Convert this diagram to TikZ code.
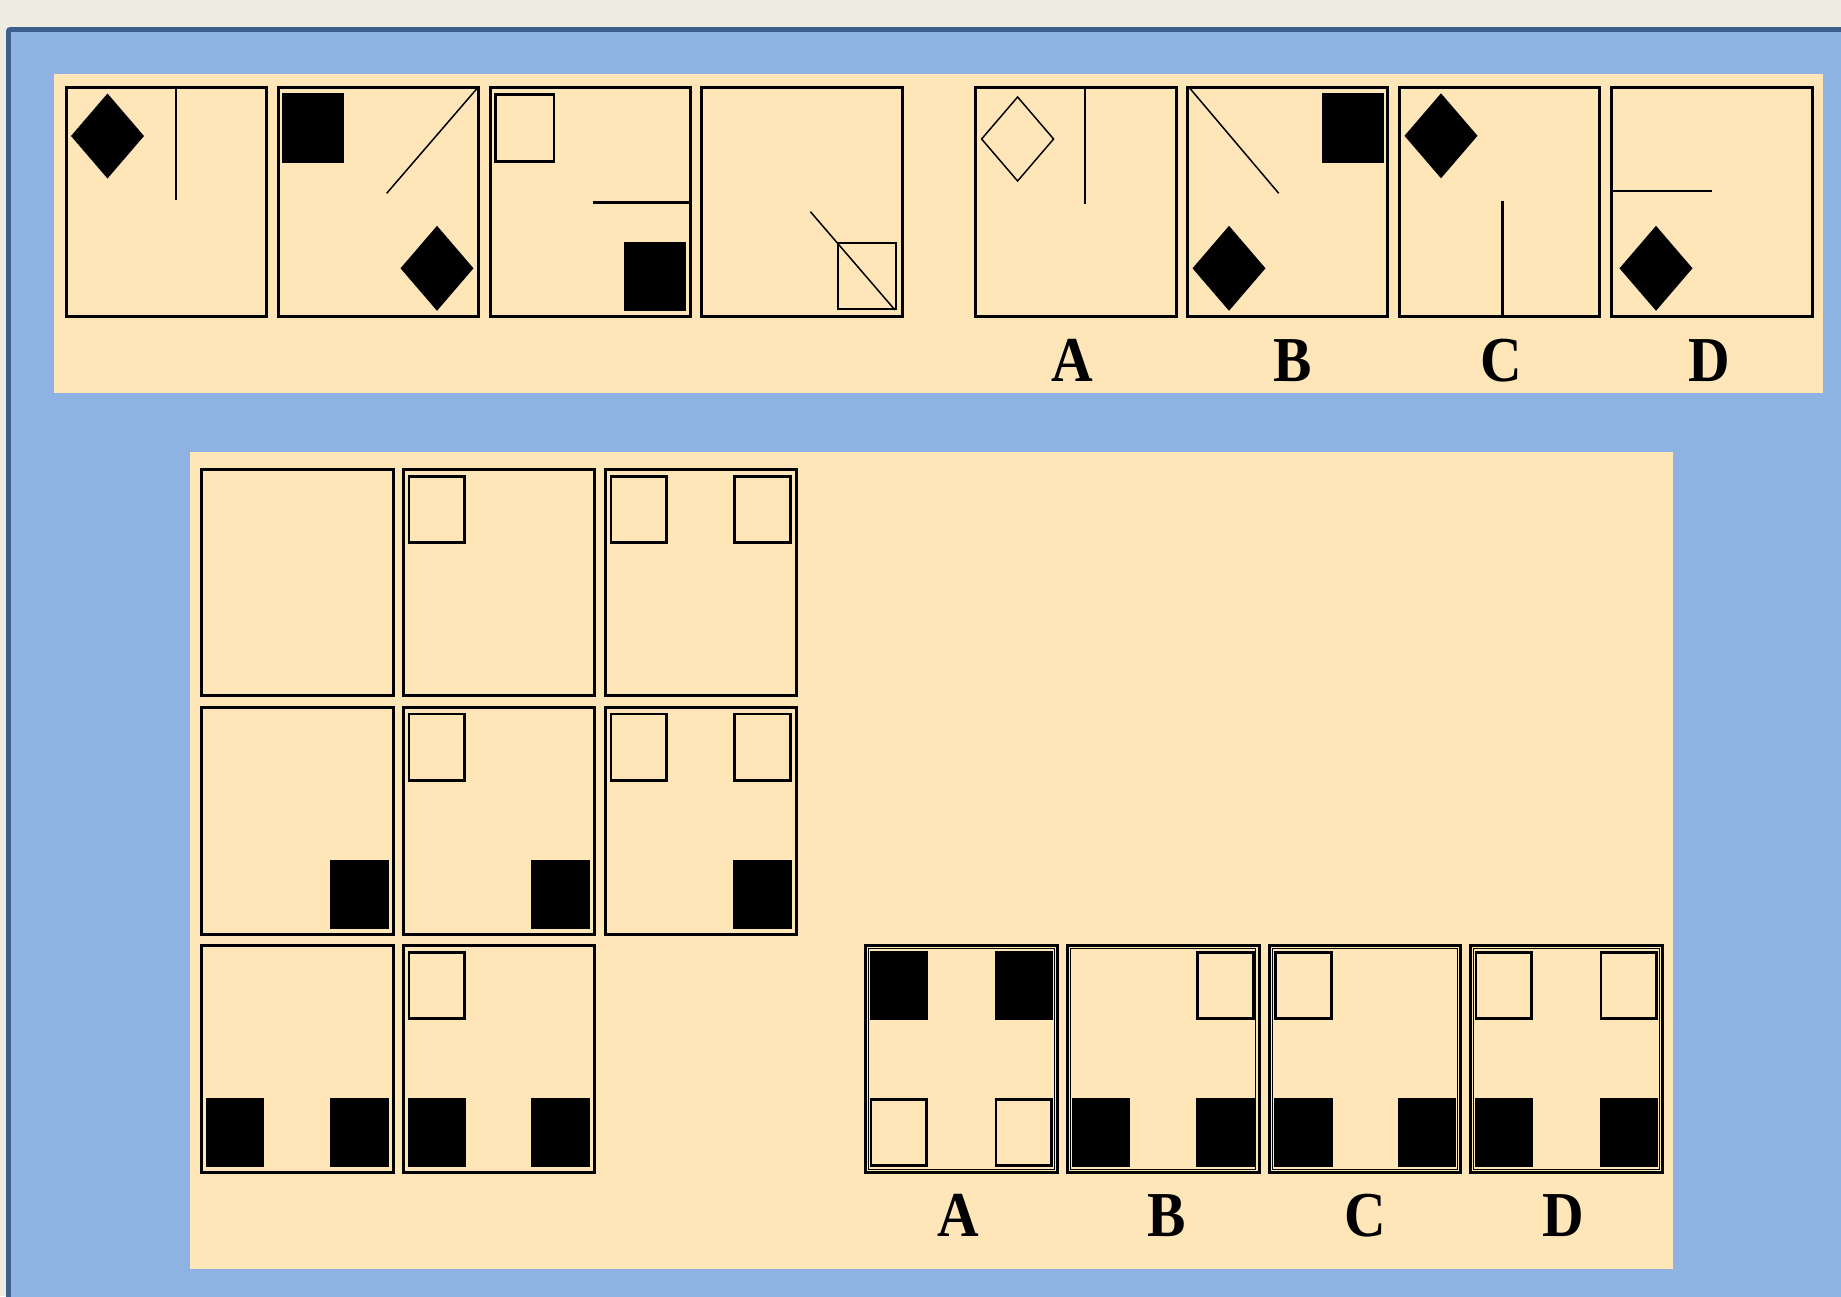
\documentclass[tikz,border=0pt]{standalone}
\usepackage{fontspec}
\setmainfont{Liberation Serif}
\definecolor{bggrey}{RGB}{238,235,224}
\definecolor{framedark}{RGB}{59,95,143}
\definecolor{skyblue}{RGB}{142,179,227}
\definecolor{cream}{RGB}{255,230,185}
\tikzset{
  boxline/.style={draw=black,line width=3pt},
  innerline/.style={draw=black,line width=1.1pt},
  thinline/.style={draw=black,line width=1.5pt},
  midline/.style={draw=black,line width=2.5pt},
  sqline/.style={draw=black,line width=2.8pt},
  lab/.style={anchor=base,inner sep=0pt,font=\fontsize{64}{64}\selectfont\bfseries}
}
% filled diamond centred at (#1,#2)
\newcommand\DiaFill[2]{\fill[black] (#1,#2-42.5) -- (#1+36.5,#2) -- (#1,#2+42.5) -- (#1-36.5,#2) -- cycle;}
\newcommand\DiaOpen[2]{\draw[thinline,line join=miter] (#1,#2-42) -- (#1+36,#2) -- (#1,#2+42) -- (#1-36,#2) -- cycle;}
% small squares: top-left corner of outer extent
\newcommand\FSq[2]{\fill[black] (#1,#2) rectangle ++(58.5,69);}
\newcommand\OSq[2]{\draw[sqline] (#1+1.4,#2+1.4) rectangle (#1+57.1,#2+67.6);}
% box with outer extent L T R B
\newcommand\PBox[4]{\draw[boxline] (#1+1.5,#2+1.5) rectangle (#3-1.5,#4-1.5);}
\newcommand\DBox[4]{\draw[boxline] (#1+1.5,#2+1.5) rectangle (#3-1.5,#4-1.5);
  \draw[innerline] (#1+4.6,#2+4.6) rectangle (#3-4.6,#4-4.6);}
\begin{document}
\begin{tikzpicture}[x=1pt,y=-1pt]
\useasboundingbox (0,0) rectangle (1841,1296);
% background and window frame
\fill[bggrey] (0,0) rectangle (1841,1296);
\fill[framedark,rounded corners=4pt] (6,27) rectangle (1870,1330);
\fill[skyblue] (11,32) rectangle (1870,1330);
% panels
\fill[cream] (54,74) rectangle (1823,392.5);
\fill[cream] (189.5,452) rectangle (1672.5,1269);

% ---------- top panel ----------
% question boxes
\PBox{65}{86}{268}{318}
\PBox{277}{86}{480}{318}
\PBox{489}{86}{692}{318}
\PBox{700}{86}{904}{318}
% options
\PBox{974}{86}{1178}{318}
\PBox{1186}{86}{1389}{318}
\PBox{1398}{86}{1601}{318}
\PBox{1610}{86}{1814}{318}

% T1
\DiaFill{107.5}{136}
\draw[line width=2pt] (176.3,88) -- (176.3,200);
% T2
\fill[black] (282,93.3) rectangle (343.5,163.3);
\draw[thinline] (386.7,193.3) -- (477,88.5);
\DiaFill{437}{268.3}
% T3
\draw[midline] (495.6,94.6) rectangle (553.8,161.5);
\draw[midline] (592.7,202.3) -- (690,202.3);
\fill[black] (624,241.7) rectangle (686,311);
% T4
\draw[midline] (838,242.9) rectangle (896.2,308.8);
\draw[thinline] (810.4,211.7) -- (895,310);
% option A
\DiaOpen{1017.6}{139}
\draw[line width=2pt] (1084.6,88) -- (1084.6,204.3);
% option B
\draw[thinline] (1190,88.5) -- (1278.7,193.3);
\fill[black] (1322,93.3) rectangle (1383.7,163.3);
\DiaFill{1229}{268.3}
% option C
\DiaFill{1441}{135.8}
\draw[midline] (1502.7,200.7) -- (1502.7,317);
% option D
\draw[midline] (1611,191) -- (1712,191);
\DiaFill{1656}{268.3}

\node[lab] (tA) at (1072,381.5) {\scalebox{0.9}[1]{A}};
\node[lab] (tB) at (1293,381.5) {\scalebox{0.9}[1]{B}};
\node[lab] (tC) at (1501,381.5) {\scalebox{0.9}[1]{C}};
\node[lab] (tD) at (1709,381.5) {\scalebox{0.9}[1]{D}};

% ---------- bottom panel ----------
% grid row 1
\PBox{199.5}{468}{394.5}{697}
\PBox{401.5}{468}{595.5}{697}
\PBox{603.5}{468}{797.5}{697}
\OSq{407.5}{475}
\OSq{609.5}{475} \OSq{733}{475}
% grid row 2
\PBox{199.5}{705.5}{394.5}{936}
\PBox{401.5}{705.5}{595.5}{936}
\PBox{603.5}{705.5}{797.5}{936}
\FSq{330}{860}
\OSq{407.5}{712.5} \FSq{531}{860}
\OSq{609.5}{712.5} \OSq{733}{712.5} \FSq{733}{860}
% grid row 3
\PBox{199.5}{944}{394.5}{1174}
\PBox{401.5}{944}{595.5}{1174}
\FSq{205.5}{1098} \FSq{330}{1098}
\OSq{407.5}{951} \FSq{407.5}{1098} \FSq{531}{1098}

% options
\DBox{863.5}{944}{1059}{1174}
\DBox{1065.5}{944}{1260.5}{1174}
\DBox{1268}{944}{1462}{1174}
\DBox{1468.5}{944}{1664}{1174}
% A
\FSq{869.5}{951} \FSq{994.5}{951} \OSq{869.5}{1098} \OSq{994.5}{1098}
% B
\OSq{1196}{951} \FSq{1071.5}{1098} \FSq{1196}{1098}
% C
\OSq{1274}{951} \FSq{1274}{1098} \FSq{1397.5}{1098}
% D
\OSq{1474.5}{951} \OSq{1599.5}{951} \FSq{1474.5}{1098} \FSq{1599.5}{1098}

\node[lab] (bA) at (958.5,1236) {\scalebox{0.9}[1]{A}};
\node[lab] (bB) at (1167,1236) {\scalebox{0.9}[1]{B}};
\node[lab] (bC) at (1365,1236) {\scalebox{0.9}[1]{C}};
\node[lab] (bD) at (1563.5,1236) {\scalebox{0.9}[1]{D}};
\end{tikzpicture}
\end{document}
